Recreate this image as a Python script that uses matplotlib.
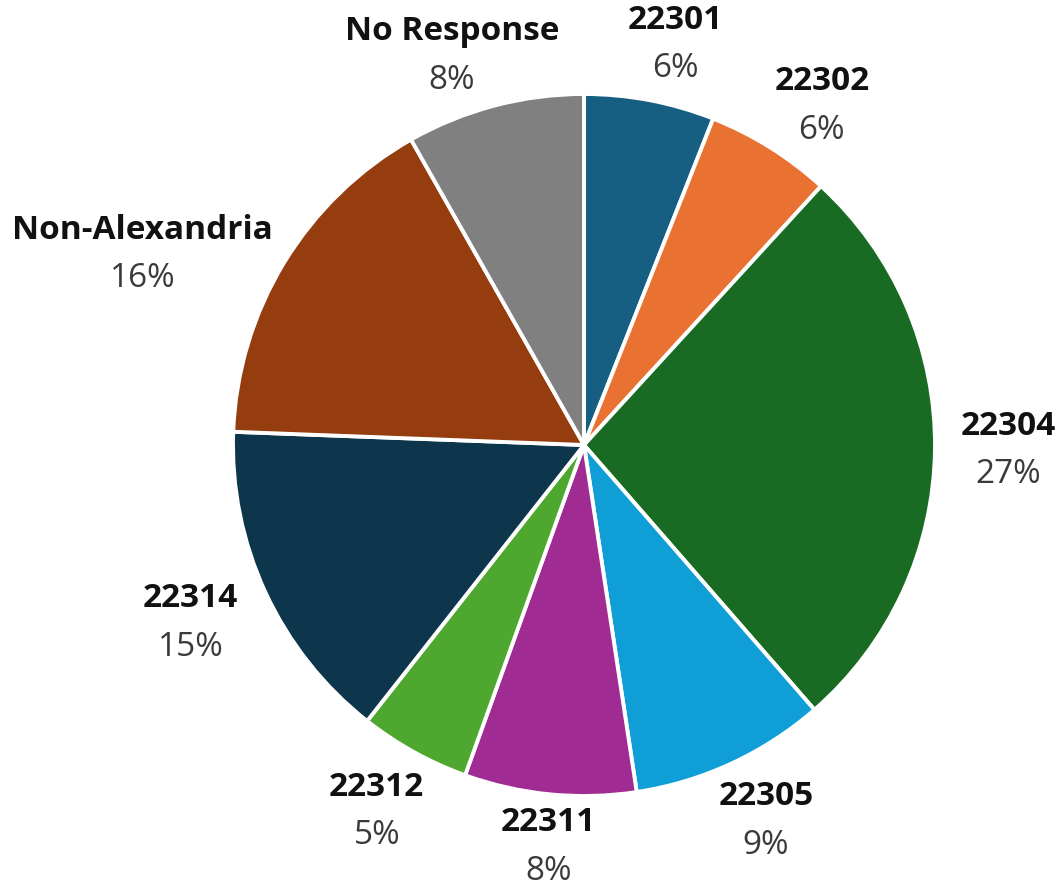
import numpy as np
import matplotlib
matplotlib.use("Agg")
import matplotlib.pyplot as plt

labels = ["22301", "22302", "22304", "22305", "22311", "22312", "22314", "Non-Alexandria", "No Response"]
values = [6.0, 5.8, 26.8, 9.0, 7.9, 5.1, 15.0, 16.2, 8.2]
pct_labels = ["6%", "6%", "27%", "9%", "8%", "5%", "15%", "16%", "8%"]
colors = ["#175f82", "#e97132", "#196b24", "#0f9ed5", "#a02b93", "#4ea72e", "#0d364c", "#963d0f", "#808080"]

# label layout: radial distance and angular nudge (degrees, clockwise) per slice
label_dist = [1.17, 1.18, 1.21, 1.19, 1.15, 1.20, 1.23, 1.37, 1.17]
label_nudge = [2, 3, 0, -1, -0.5, 0.5, 0.5, -8, -4]

plt.rcParams['font.family'] = ['Open Sans', 'DejaVu Sans']

W, H = 1061, 890
fig = plt.figure(figsize=(W / 100, H / 100), dpi=100)
ax = fig.add_axes([0, 0, 1, 1])
R_px = 351.0
cx, cy = 584.0, 445.0
ax.set_aspect('equal')
ax.axis('off')

wedges, _ = ax.pie(values, colors=colors, startangle=90, counterclock=False,
                   radius=1.0, center=(0, 0),
                   wedgeprops=dict(edgecolor='white', linewidth=2.8))
ax.set_xlim(-cx / R_px, (W - cx) / R_px)
ax.set_ylim(-(H - cy) / R_px, cy / R_px)

total = sum(values)
cum = 0.0
for i, v in enumerate(values):
    mid = (cum + v / 2) / total * 360.0 + label_nudge[i]
    cum += v
    th = np.deg2rad(mid)
    d = label_dist[i]
    x = d * np.sin(th)
    y = d * np.cos(th)
    ax.text(x, y + 0.069, labels[i], ha='center', va='center', fontsize=24,
            fontweight='bold', color='#111111')
    ax.text(x, y - 0.069, pct_labels[i], ha='center', va='center', fontsize=24,
            color='#3a3a3a')

fig.savefig("out.png", dpi=100, facecolor='white')
